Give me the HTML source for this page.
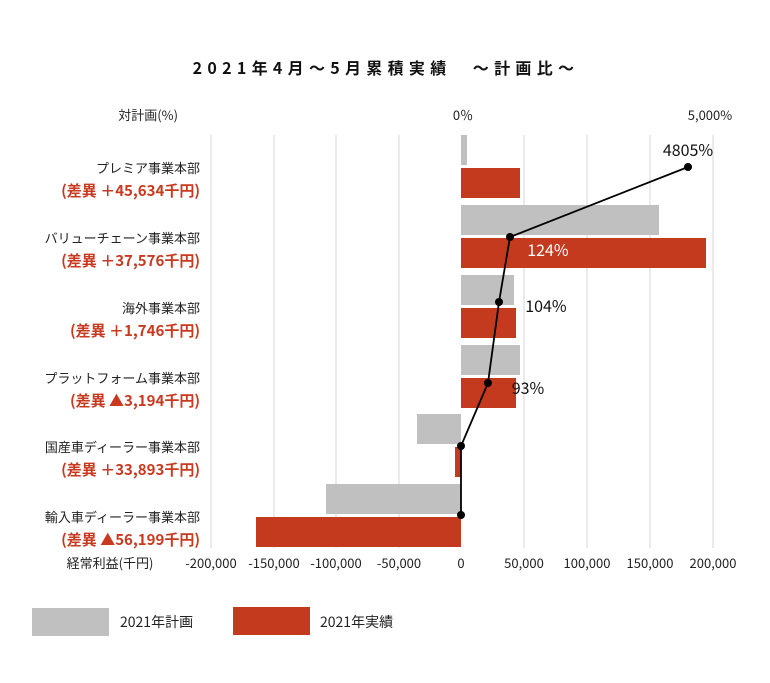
<!DOCTYPE html>
<html><head><meta charset="utf-8"><style>
body{margin:0;background:#fff;}
svg text{font-family:"Noto Sans CJK JP","Liberation Sans",sans-serif;}
</style></head><body>
<svg width="770" height="678" viewBox="0 0 770 678" xmlns="http://www.w3.org/2000/svg">
<rect width="770" height="678" fill="#fff"/>
<text x="386" y="74" text-anchor="middle" font-size="16" font-weight="bold" letter-spacing="5.3" fill="#111">2021年4月～5月累積実績　～計画比～</text>
<text x="178" y="120" text-anchor="end" font-size="13" fill="#222">対計画(%)</text>
<text x="463" y="120" text-anchor="middle" font-size="13" fill="#222">0％</text>
<text x="710" y="120" text-anchor="middle" font-size="13" fill="#222">5,000%</text>
<g stroke="#d6d6d6" stroke-width="1">
<line x1="211" y1="135" x2="211" y2="548"/><line x1="274" y1="135" x2="274" y2="548"/>
<line x1="336" y1="135" x2="336" y2="548"/><line x1="399" y1="135" x2="399" y2="548"/>
<line x1="524" y1="135" x2="524" y2="548"/><line x1="587" y1="135" x2="587" y2="548"/>
<line x1="650" y1="135" x2="650" y2="548"/><line x1="713" y1="135" x2="713" y2="548"/>
</g>
<g fill="#c0c0c0">
<rect x="461" y="135" width="6" height="30"/>
<rect x="461" y="205" width="198" height="30"/>
<rect x="461" y="275" width="53" height="30"/>
<rect x="461" y="345" width="59" height="30"/>
<rect x="417" y="414" width="44" height="30"/>
<rect x="326" y="484" width="135" height="30"/>
</g>
<g fill="#c33a1f">
<rect x="461" y="168" width="59" height="30"/>
<rect x="461" y="238" width="245" height="30"/>
<rect x="461" y="308" width="55" height="30"/>
<rect x="461" y="378" width="55" height="30"/>
<rect x="455" y="447" width="6" height="30"/>
<rect x="256" y="517" width="205" height="30"/>
</g>
<polyline points="688,167 510,237 499,302 488,383 461,446 461,515" fill="none" stroke="#000" stroke-width="1.8"/>
<g fill="#000"><circle cx="688" cy="167" r="4"/><circle cx="510" cy="237" r="4"/><circle cx="499" cy="302" r="4"/><circle cx="488" cy="383" r="4"/><circle cx="461" cy="446" r="4"/><circle cx="461" cy="515" r="4"/></g>
<g font-size="16" fill="#111">
<text x="688" y="156" text-anchor="middle">4805%</text>
<text x="548" y="256" text-anchor="middle" fill="#fff">124%</text>
<text x="546" y="312" text-anchor="middle">104%</text>
<text x="528" y="394" text-anchor="middle">93%</text>
</g>
<g font-size="13" text-anchor="end">
<text x="200" y="173" fill="#222">プレミア事業本部</text>
<text x="200" y="196" fill="#c8391f" font-weight="bold" font-size="15">(差異 ＋45,634千円)</text>
<text x="200" y="243" fill="#222">バリューチェーン事業本部</text>
<text x="200" y="266" fill="#c8391f" font-weight="bold" font-size="15">(差異 ＋37,576千円)</text>
<text x="200" y="313" fill="#222">海外事業本部</text>
<text x="200" y="336" fill="#c8391f" font-weight="bold" font-size="15">(差異 ＋1,746千円)</text>
<text x="200" y="383" fill="#222">プラットフォーム事業本部</text>
<text x="200" y="406" fill="#c8391f" font-weight="bold" font-size="15">(差異 ▲3,194千円)</text>
<text x="200" y="452" fill="#222">国産車ディーラー事業本部</text>
<text x="200" y="475" fill="#c8391f" font-weight="bold" font-size="15">(差異 ＋33,893千円)</text>
<text x="200" y="522" fill="#222">輸入車ディーラー事業本部</text>
<text x="200" y="545" fill="#c8391f" font-weight="bold" font-size="15">(差異 ▲56,199千円)</text>
</g>
<g font-size="13" fill="#222" text-anchor="middle">
<text x="110" y="568">経常利益(千円)</text>
<text x="211" y="568">-200,000</text><text x="274" y="568">-150,000</text>
<text x="336" y="568">-100,000</text><text x="399" y="568">-50,000</text>
<text x="461" y="568">0</text><text x="524" y="568">50,000</text>
<text x="587" y="568">100,000</text><text x="650" y="568">150,000</text>
<text x="713" y="568">200,000</text>
</g>
<rect x="32" y="608" width="77" height="28" fill="#c0c0c0"/>
<text x="120" y="627" font-size="14" fill="#222">2021年計画</text>
<rect x="233" y="607" width="77" height="28" fill="#c33a1f"/>
<text x="320" y="627" font-size="14" fill="#222">2021年実績</text>
</svg>
</body></html>
